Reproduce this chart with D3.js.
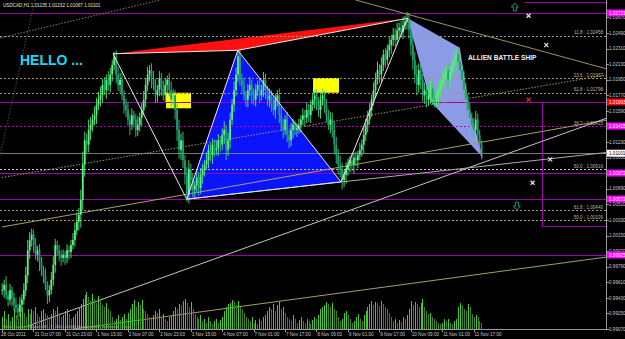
<!DOCTYPE html>
<html>
<head>
<meta charset="utf-8">
<script src="https://cdn.jsdelivr.net/npm/d3@7"></script>
<style>
html, body { margin: 0; padding: 0; background: #000; overflow: hidden; }
text { font-family: "Liberation Sans", Arial, sans-serif; }
</style>
</head>
<body>
<div id="chart"></div>
<script>
// hourly closes USDCAD H1, 28 Oct 15:00 -> 11 Nov 21:00
var closes = [
	0.9952,0.9958,0.9946,0.9941,0.9952,0.9943,0.9935,0.9931,0.9927,0.9935,
	0.9941,0.9952,0.9969,0.9998,1.0010,1.0016,1.0004,0.9993,0.9998,0.9984,
	0.9975,0.9969,0.9958,0.9946,0.9952,0.9964,0.9981,1.0004,0.9998,0.9993,
	0.9989,0.9993,0.9989,0.9998,0.9996,1.0004,1.0010,1.0021,1.0031,1.0039,
	1.0056,1.0097,1.0125,1.0120,1.0137,1.0143,1.0149,1.0154,1.0166,1.0172,
	1.0177,1.0189,1.0183,1.0195,1.0189,1.0201,1.0212,1.0222,1.0201,1.0189,
	1.0195,1.0177,1.0166,1.0160,1.0149,1.0143,1.0154,1.0149,1.0137,1.0143,
	1.0151,1.0160,1.0172,1.0189,1.0201,1.0206,1.0195,1.0189,1.0177,1.0183,
	1.0197,1.0185,1.0177,1.0189,1.0195,1.0183,1.0172,1.0177,1.0160,1.0137,
	1.0114,1.0125,1.0102,1.0085,1.0062,1.0091,1.0079,1.0068,1.0073,1.0082,
	1.0070,1.0085,1.0091,1.0097,1.0102,1.0114,1.0108,1.0120,1.0114,1.0116,
	1.0125,1.0120,1.0131,1.0137,1.0114,1.0125,1.0149,1.0166,1.0183,1.0201,
	1.0222,1.0195,1.0189,1.0177,1.0172,1.0183,1.0189,1.0177,1.0172,1.0183,
	1.0189,1.0177,1.0183,1.0195,1.0183,1.0172,1.0177,1.0166,1.0160,1.0172,
	1.0177,1.0154,1.0143,1.0137,1.0149,1.0131,1.0125,1.0137,1.0143,1.0137,
	1.0139,1.0143,1.0149,1.0154,1.0151,1.0160,1.0154,1.0166,1.0172,1.0177,
	1.0166,1.0160,1.0172,1.0177,1.0166,1.0154,1.0143,1.0149,1.0137,1.0120,
	1.0108,1.0097,1.0091,1.0079,1.0085,1.0091,1.0097,1.0102,1.0097,1.0105,
	1.0102,1.0108,1.0114,1.0120,1.0131,1.0143,1.0149,1.0160,1.0172,1.0183,
	1.0195,1.0206,1.0201,1.0212,1.0224,1.0218,1.0229,1.0235,1.0241,1.0247,
	1.0241,1.0252,1.0255,1.0250,1.0258,1.0262,1.0264,1.0252,1.0235,1.0218,
	1.0201,1.0189,1.0206,1.0195,1.0177,1.0183,1.0172,1.0177,1.0185,1.0174,
	1.0172,1.0177,1.0183,1.0189,1.0195,1.0201,1.0206,1.0195,1.0204,1.0212,
	1.0218,1.0224,1.0216,1.0206,1.0195,1.0183,1.0172,1.0160,1.0151,1.0143,
	1.0137,1.0149,1.0131,1.0120,1.0110
];
// wick lengths in pips beyond the body
var wickHigh = [
	8,6,10,5,7,4,6,8,5,9, 6,8,10,12,9,7,6,8,5,7, 6,5,8,4,6,9,10,7,5,6, 5,6,4,7,5,6,8,9,10,8,
	12,15,10,8,12,9,7,10,8,9, 10,7,9,6,10,8,6,5,7,9, 8,10,6,7,9,6,8,5,7,10, 6,8,10,7,9,6,8,10,7,6,
	8,6,9,7,5,8,10,7,6,9, 12,8,10,6,9,11,7,8,5,9, 6,8,7,5,9,6,8,7,6,9, 7,5,8,10,6,9,8,7,10,8,
	6,9,7,8,5,7,9,6,8,7, 5,8,6,9,7,5,8,6,9,7, 6,8,10,7,5,9,6,8,7,5, 6,7,5,8,6,9,7,5,8,6,
	7,9,6,8,5,7,6,9,8,10, 9,7,10,8,6,9,7,5,8,6, 7,5,8,6,9,7,10,8,6,9, 8,10,7,9,6,8,7,9,6,8,
	7,9,6,8,10,7,9,8,10,12, 9,11,8,10,7,9,6,8,10,7, 8,6,9,7,10,8,6,9,7,8, 10,7,9,8,6,10,8,7,9,6,
	8,10,7,6,5
];
var wickLow = [
	6,9,5,8,6,10,7,5,9,6, 8,6,7,9,10,8,9,6,8,10, 7,9,6,10,8,5,7,9,6,8, 9,5,8,6,9,7,5,8,6,10,
	15,12,14,10,9,12,8,7,10,6, 8,9,6,10,7,9,8,6,10,7, 9,6,10,8,7,12,6,9,8,7, 8,10,6,9,7,8,10,6,9,8,
	7,9,6,8,10,7,9,8,11,13, 10,12,9,11,8,10,12,9,11,8, 9,7,10,8,6,9,7,10,8,6, 9,8,6,10,12,7,9,6,8,7,
	9,7,10,6,8,9,7,10,6,8, 7,9,6,8,10,7,9,8,6,10, 8,9,7,10,6,8,9,7,10,6, 8,6,9,7,10,6,8,9,7,10,
	6,8,10,7,9,8,6,10,9,11, 10,12,9,11,8,10,7,9,8,10, 7,9,6,8,10,7,9,6,8,7, 9,6,10,8,7,9,6,8,10,7,
	8,6,9,7,8,6,9,10,12,11, 10,12,9,11,8,10,9,7,10,8, 9,7,10,8,6,9,7,10,8,6, 8,10,7,9,11,10,12,9,11,10,
	9,11,10,8,7
];
var volumes = [
	1200,1800,1000,1500,800,1200,2000,1400,1000,1800,2200,1600,1200,2000,1500,
	2000,1800,2200,1500,1200,1800,2000,1600,1400,1000,
	1500,2000,1800,2200,1600,1200,1400,1800,2000,1500,1000,
	1200,1500,1800,2200,2500,
	3000,3400,3700,3200,2800,3500,3000,2600,3300,2800,
	2400,2200,2600,2000,1800,
	1200,800,1000,1400,900,1200,1500,1000,
	1600,2000,2500,2900,2200,2700,2400,2900,2000,1800,1500,
	1200,1000,1400,1800,1600,2000,1200,1500,1000,800,1200,1400,1800,2200,2000,2500,2400,
	2800,3000,2600,2200,2700,2000,
	1500,1200,1000,1400,800,1000,600,1200,800,
	500,800,1000,600,900,
	1200,1800,2200,2500,2600,2900,2700,2400,2800,2200,2000,1600,1200,
	1000,800,1200,600,900,500,1000,800,1200,1400,
	1800,2200,2000,2500,1800,2400,2700,2000,2200,1600,
	1200,1000,800,1400,1000,600,900,1200,800,600,1000,800,500,900,1200,1000,
	1400,2000,2200,2400,2700,2500,2200,2600,2000,1800,
	1200,800,1000,1600,1800,1400,1000,600,800,1200,1500,1000,800,
	1400,1800,2200,2500,2800,2400,2700,2600,2300,2800,2500,2200,2000,1600,1200,
	800,1000,600,900,700,1200,1000,1400,
	2000,2800,2400,2700,2500,2200,2600,3000,2200,
	1800,1500,1600,1200,1000,800,600,500,
	600,1000,800,1000,600,500,800,1000,
	2200,2600,2400,2000,1800,2500,2200,
	1500,1200,1400,1200,800,600
];
var timeLabels = ["28 Oct 2011","31 Oct 07:00","31 Oct 23:00","1 Nov 15:00","2 Nov 07:00","2 Nov 23:00",
	"3 Nov 15:00","4 Nov 07:00","7 Nov 01:00","7 Nov 17:00","8 Nov 09:00","9 Nov 01:00",
	"9 Nov 17:00","10 Nov 09:00","11 Nov 01:00","11 Nov 17:00"];
var priceTicks = [1.02670,1.02490,1.02310,1.02130,1.01950,1.01770,1.01590,1.01410,1.01230,1.01050,
	1.00870,1.00690,1.00510,1.00330,1.00150,0.99970,0.99790,0.99610,0.99430,0.99250,0.99070];

var fibNames  = ["11.8","23.6","61.8","38.2","50.0","61.8","50.0"];
var fibPrices = [1.02458,1.01967,1.01798,1.01415,1.00916,1.00440,1.00326];
var hLevels   = [1.02721,1.01693,1.01415,1.00872,1.00572,0.99925];
var lastPrice = 1.01101;
var header = "USDCAD,H1  1.01135 1.01232 1.01067 1.01101";

// drawn objects: [bar, price]
var pivotBars   = [56.5, 94, 120, 172.5, 206.5];
var pivotPrices = [1.0225, 1.0057, 1.0229, 1.0077, 1.0266];
var shipBars    = [206.5, 233, 238, 244.8, 218];
var shipPrices  = [1.0266, 1.0232, 1.0160, 1.0105, 1.0170];
var boxBars     = [[83.5, 96.2], [158.3, 171.5]];
var boxPrices   = [[1.0180, 1.0162], [1.0197, 1.0180]];
var trendBars   = [[-1.02, 80.4], [180, 307.9], [0, 307.9], [0, 307.9], [11.7, 307.9], [0, 307.9], [16.8, -20.9], [94, 307.9]];
var trendPrices = [[1.02432, 1.02871], [1.02871, 1.02074], [1.00820, 1.02005], [1.00249, 1.01485],
	[0.99093, 1.01508], [0.98958, 0.99902], [1.02871, 0.99070], [1.0057, 1.0111]];
var crossBars   = [268, 277, 268, 279, 270];
var crossPrices = [1.0269, 1.0235, 1.0172, 1.0103, 1.0076];
var arrowBars   = [261, 262];
var arrowPrices = [1.0279, 1.0049];

var width = 625, height = 339;
var plotW = 606, plotH = 329;
var pip = 0.0001;

var x = d3.scaleLinear().domain([0, 308]).range([2, 607.2]);
var y = d3.scaleLinear().domain([0.99070, 1.02490]).range([329, 33]);
var yv = d3.scaleLinear().domain([0, 4000]).range([329, 289]);

var svg = d3.select("#chart").append("svg")
	.attr("width", width)
	.attr("height", height)
	.style("background", "#000");

svg.append("defs").append("clipPath").attr("id", "plot")
	.append("rect").attr("x", 0).attr("y", 0).attr("width", plotW).attr("height", plotH);

var g = svg.append("g").attr("clip-path", "url(#plot)");

function pt(b, p) { return [x(b), y(p)]; }
function openOf(i) { return i > 0 ? closes[i - 1] : closes[0]; }

// filled objects (background)
var P = pivotBars.map(function(b, i) { return pt(b, pivotPrices[i]); });
g.append("polygon").attr("points", [P[0], P[4], P[2]].join(" ")).attr("fill", "#ff1010");
g.append("polygon").attr("points", [P[1], P[2], P[3]].join(" ")).attr("fill", "#0a14ff");
g.append("polygon")
	.attr("points", shipBars.map(function(b, i) { return pt(b, shipPrices[i]); }).join(" "))
	.attr("fill", "#8c9be6");
boxBars.forEach(function(b, i) {
	g.append("rect")
		.attr("x", x(b[0])).attr("y", y(boxPrices[i][0]))
		.attr("width", x(b[1]) - x(b[0])).attr("height", y(boxPrices[i][1]) - y(boxPrices[i][0]))
		.attr("fill", "#ffff00");
});

// fibo levels
var fibColors = ["#9a9a88", "#a49660", "#a49660", "#c000c0", "#c8c8c8", "#9c9c8c", "#b0a050"];
g.selectAll(".fib").data(fibPrices).enter().append("line")
	.attr("x1", 0).attr("x2", plotW)
	.attr("y1", function(d) { return Math.round(y(d)) + 0.5; })
	.attr("y2", function(d) { return Math.round(y(d)) + 0.5; })
	.attr("stroke", function(d, i) { return fibColors[i]; })
	.attr("stroke-width", 1)
	.attr("stroke-dasharray", "2,2");
g.selectAll(".fibtxt").data(fibPrices).enter().append("text")
	.attr("x", 603).attr("y", function(d) { return y(d) - 1.5; })
	.attr("text-anchor", "end")
	.attr("font-size", 4.6)
	.attr("fill", "#b8b8a0")
	.text(function(d, i) { return fibNames[i] + " : " + d.toFixed(5); });

// horizontal lines
var hColors = ["#a000b0", "#a000b0", "#c000c0", "#a000b0", "#a000b0", "#a000b0"];
g.selectAll(".hl").data(hLevels).enter().append("line")
	.attr("x1", 0).attr("x2", plotW)
	.attr("y1", function(d) { return Math.round(y(d)) + 0.5; })
	.attr("y2", function(d) { return Math.round(y(d)) + 0.5; })
	.attr("stroke", function(d, i) { return hColors[i]; })
	.attr("stroke-dasharray", function(d, i) { return i == 2 ? "2,2" : null; });
g.append("line")
	.attr("x1", 0).attr("x2", plotW)
	.attr("y1", Math.round(y(lastPrice)) + 0.5).attr("y2", Math.round(y(lastPrice)) + 0.5)
	.attr("stroke", "#6e7a86");

// purple box on the right
g.append("path")
	.attr("d", "M" + (Math.round(x(275)) + 0.5) + "," + y(1.01693) + "V" + (Math.round(y(1.0026)) + 0.5) + "H" + plotW)
	.attr("fill", "none").attr("stroke", "#a000b0");
g.append("line").attr("x1", x(266)).attr("x2", plotW).attr("y1", 2.5).attr("y2", 2.5).attr("stroke", "#a000b0");

// trend lines
var trendColors = ["#8a7e50", "#a09262", "#a49658", "#aa9c6a", "#c4c4c4", "#aa9c6a", "#4a4a4a", "#a8a8a8"];
var trendDash = ["1.5,1.5", null, "1.5,1.5", null, null, null, "1.5,1.5", null];
trendBars.forEach(function(b, i) {
	g.append("line")
		.attr("x1", x(b[0])).attr("y1", y(trendPrices[i][0]))
		.attr("x2", x(b[1])).attr("y2", y(trendPrices[i][1]))
		.attr("stroke", trendColors[i])
		.attr("stroke-width", 1)
		.attr("stroke-dasharray", trendDash[i]);
});

// volumes
g.selectAll(".vol").data(volumes).enter().append("line")
	.attr("x1", function(d, i) { return Math.round(x(i)) + 0.5; })
	.attr("x2", function(d, i) { return Math.round(x(i)) + 0.5; })
	.attr("y1", plotH)
	.attr("y2", function(d) { return yv(d); })
	.attr("stroke", function(d, i) { return (i > 0 && d < volumes[i - 1]) ? "#3f7f2a" : "#46c834"; })
	.attr("stroke-width", 1);

// candles (open = previous close)
var candle = g.selectAll(".candle").data(closes).enter().append("g");
candle.append("line")
	.attr("x1", function(d, i) { return x(i) + 0.2; })
	.attr("x2", function(d, i) { return x(i) + 0.2; })
	.attr("y1", function(d, i) { return y(Math.max(openOf(i), d) + wickHigh[i] * pip); })
	.attr("y2", function(d, i) { return y(Math.min(openOf(i), d) - wickLow[i] * pip); })
	.attr("stroke", function(d, i) { return d >= openOf(i) ? "#58e878" : "#3cc878"; })
	.attr("stroke-width", 0.9);
candle.append("rect")
	.attr("x", function(d, i) { return x(i) - 0.7; })
	.attr("y", function(d, i) { return y(Math.max(openOf(i), d)); })
	.attr("width", 1.8)
	.attr("height", function(d, i) { return Math.max(1, Math.abs(y(openOf(i)) - y(d))); })
	.attr("fill", function(d, i) { return d >= openOf(i) ? "#5cf07e" : "#1c9c74"; });

// pattern lines
var zig = [[0, 1], [1, 2], [2, 3], [3, 4], [0, 2], [2, 4], [1, 3]];
zig.forEach(function(s) {
	g.append("line")
		.attr("x1", P[s[0]][0]).attr("y1", P[s[0]][1])
		.attr("x2", P[s[1]][0]).attr("y2", P[s[1]][1])
		.attr("stroke", "#e8e8e8").attr("stroke-width", 1);
});

// markers
crossBars.forEach(function(b, i) {
	var c = pt(b, crossPrices[i]);
	var col = i == 2 ? "#ff2020" : "#e0e0e0";
	g.append("path")
		.attr("d", "M" + (c[0] - 2) + "," + (c[1] - 2) + "L" + (c[0] + 2) + "," + (c[1] + 2) +
			"M" + (c[0] + 2) + "," + (c[1] - 2) + "L" + (c[0] - 2) + "," + (c[1] + 2))
		.attr("stroke", col).attr("stroke-width", 1.3);
});
arrowBars.forEach(function(b, i) {
	var c = pt(b, arrowPrices[i]);
	var s = i == 0 ? -1 : 1;
	g.append("path")
		.attr("d", "M" + c[0] + "," + (c[1] + s * 4) +
			"L" + (c[0] - 3.5) + "," + c[1] + "L" + (c[0] - 1.5) + "," + c[1] +
			"L" + (c[0] - 1.5) + "," + (c[1] - s * 4) + "L" + (c[0] + 1.5) + "," + (c[1] - s * 4) +
			"L" + (c[0] + 1.5) + "," + c[1] + "L" + (c[0] + 3.5) + "," + c[1] + "Z")
		.attr("fill", "none").attr("stroke", "#0a9a84").attr("stroke-width", 1);
});

// texts on chart
g.append("text").attr("x", 3).attr("y", 7).attr("font-size", 4.6).attr("fill", "#e0e0e0").text(header);
g.append("text").attr("x", 20).attr("y", 65).attr("font-size", 14).attr("font-weight", "bold")
	.attr("fill", "#1ed8f2").text("HELLO ...");
g.append("text").attr("x", 468).attr("y", 60).attr("font-size", 6.6).attr("font-weight", "bold")
	.attr("fill", "#f0f0f0").text("ALLIEN BATTLE SHIP");
g.append("text").attr("x", 3).attr("y", 327.5).attr("font-size", 4.4).attr("fill", "#b0b0b0")
	.text("MetaTrader - Alpari UK, \u00a9 2001-2009 MetaQuotes Software Corp.");

// axes frame
svg.append("line").attr("x1", plotW + 0.5).attr("x2", plotW + 0.5).attr("y1", 0).attr("y2", plotH + 1).attr("stroke", "#9a9a9a");
svg.append("line").attr("x1", 0).attr("x2", plotW + 1).attr("y1", plotH + 0.5).attr("y2", plotH + 0.5).attr("stroke", "#9a9a9a");

// price axis
var pa = svg.append("g");
pa.selectAll("line").data(priceTicks).enter().append("line")
	.attr("x1", plotW).attr("x2", plotW + 3)
	.attr("y1", function(d) { return Math.round(y(d)) + 0.5; })
	.attr("y2", function(d) { return Math.round(y(d)) + 0.5; })
	.attr("stroke", "#9a9a9a");
pa.selectAll("text").data(priceTicks).enter().append("text")
	.attr("x", 609).attr("y", function(d) { return y(d) + 1.7; })
	.attr("font-size", 4.6).attr("fill", "#c8c8c8")
	.text(function(d) { return d.toFixed(5); });

// coloured price tags
var tagPrices = hLevels.concat([lastPrice]);
var tagColors = ["#ff00ff", "#ff0000", "#ff00ff", "#ff00ff", "#ff00ff", "#ff00ff", "#ffffff"];
var tags = svg.append("g").selectAll("g").data(tagPrices).enter().append("g")
	.attr("transform", function(d) { return "translate(607," + y(d) + ")"; });
tags.append("rect").attr("x", 0).attr("y", -3.5).attr("width", 18).attr("height", 7)
	.attr("fill", function(d, i) { return tagColors[i]; });
tags.append("text").attr("x", 2).attr("y", 1.7).attr("font-size", 4.6)
	.attr("fill", function(d, i) { return i == 6 ? "#000" : "#fff"; })
	.text(function(d) { return d.toFixed(5); });

// time axis
var ta = svg.append("g");
ta.selectAll("line").data(timeLabels).enter().append("line")
	.attr("x1", function(d, i) { return Math.round(x(i * 16)) + 0.5; })
	.attr("x2", function(d, i) { return Math.round(x(i * 16)) + 0.5; })
	.attr("y1", plotH).attr("y2", plotH + 3)
	.attr("stroke", "#9a9a9a");
ta.selectAll("text").data(timeLabels).enter().append("text")
	.attr("x", function(d, i) { return x(i * 16) + (i == 0 ? -1 : 1); })
	.attr("y", 336)
	.attr("font-size", 4.6).attr("fill", "#c8c8c8")
	.text(function(d) { return d; });
</script>
</body>
</html>
